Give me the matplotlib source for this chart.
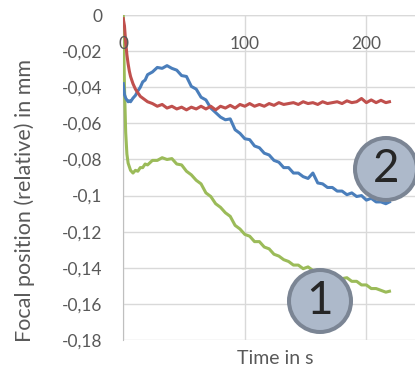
import numpy as np
import matplotlib
matplotlib.use("Agg")
import matplotlib.pyplot as plt
from matplotlib.patches import Circle

plt.rcParams['font.family'] = ['Lato', 'DejaVu Sans']

# time in s
t = [0, 1, 2, 3, 4, 5, 6, 8, 10, 12, 14, 16, 18,
     20, 24, 28, 32, 36, 40, 44, 48, 52, 56, 60, 64, 68, 72, 76, 80,
     84, 88, 92, 96, 100, 104, 108, 112, 116, 120, 124, 128, 132, 136,
     140, 144, 148, 152, 156, 160, 164, 168, 172, 176, 180, 184, 188,
     192, 196, 200, 204, 208, 212, 216, 219]

# focal position (relative) in mm
red = [-0.002, -0.006, -0.015, -0.022, -0.027, -0.031, -0.034, -0.038, -0.041, -0.043, -0.045, -0.046, -0.047,
       -0.048, -0.049, -0.0505, -0.0495, -0.0515, -0.0505, -0.052, -0.051, -0.0525, -0.051, -0.052, -0.0505, -0.052,
       -0.0505, -0.0525, -0.0505, -0.0515, -0.050, -0.0515, -0.0495, -0.0505, -0.049, -0.0505, -0.0495, -0.0505,
       -0.049, -0.050, -0.0485, -0.0495, -0.049, -0.0485, -0.0495, -0.048, -0.049, -0.0485, -0.0495, -0.048,
       -0.049, -0.0485, -0.048, -0.049, -0.0475, -0.0485, -0.048, -0.0462, -0.0485, -0.047, -0.0485, -0.0472,
       -0.0485, -0.048]

blue = [-0.038, -0.044, -0.046, -0.047, -0.048, -0.0475, -0.048, -0.046, -0.0445, -0.042, -0.040, -0.037, -0.036,
        -0.033, -0.0315, -0.029, -0.0295, -0.028, -0.0295, -0.0305, -0.0335, -0.034, -0.0395, -0.041, -0.0455, -0.047,
        -0.0515, -0.054, -0.0565, -0.058, -0.0575, -0.0635, -0.0655, -0.0685, -0.069, -0.0725, -0.0735, -0.0765,
        -0.0775, -0.0805, -0.0815, -0.0845, -0.0845, -0.0875, -0.0875, -0.0895, -0.0905, -0.0875, -0.093, -0.0935,
        -0.0955, -0.0955, -0.0975, -0.0975, -0.0995, -0.0985, -0.1005, -0.1, -0.1025, -0.1015, -0.1035, -0.1035,
        -0.1045, -0.1035]

green = [0.0, -0.040, -0.065, -0.077, -0.082, -0.084, -0.086, -0.0875, -0.086, -0.0865, -0.0845, -0.0845, -0.0825,
         -0.083, -0.0805, -0.0805, -0.079, -0.08, -0.0795, -0.0825, -0.083, -0.0865, -0.0885, -0.0915, -0.0935, -0.0985,
         -0.1005, -0.1045, -0.1065, -0.1095, -0.1115, -0.1165, -0.1185, -0.1215, -0.1225, -0.1255, -0.1255, -0.1285,
         -0.1295, -0.1325, -0.1335, -0.1355, -0.1365, -0.1385, -0.1385, -0.1405, -0.1395, -0.1415, -0.1415, -0.1435,
         -0.143, -0.1445, -0.1445, -0.146, -0.1455, -0.1475, -0.1475, -0.1495, -0.1495, -0.1515, -0.1515, -0.1525,
         -0.1535, -0.153]

y_ticks = [0, -0.02, -0.04, -0.06, -0.08, -0.1, -0.12, -0.14, -0.16, -0.18]
y_ticklabels = ['0', '-0,02', '-0,04', '-0,06', '-0,08', '-0,1', '-0,12', '-0,14', '-0,16', '-0,18']
x_ticks = [0, 100, 200]

txt = '#595959'
grid = '#D9D9D9'

fig = plt.figure(figsize=(4.15, 3.73), dpi=100)
ax = fig.add_axes([0.297, 0.0885, 0.703, 0.871])

ax.plot(t, green, color='#9BBB59', lw=2.2, zorder=3)
ax.plot(t, blue, color='#4A7EBB', lw=2.2, zorder=3)
ax.plot(t, red, color='#C0504D', lw=2.2, zorder=3)

ax.set_xlim(0, 240)
ax.set_ylim(-0.18, 0)
ax.set_yticks(y_ticks)
ax.set_yticklabels(y_ticklabels)
ax.set_xticks(x_ticks)
ax.set_xticklabels([])
ax.tick_params(axis='both', length=0, labelsize=12.5, labelcolor=txt)
ax.tick_params(axis='y', pad=15)
ax.grid(True, color=grid, lw=1)
for s in ['top', 'right', 'bottom']:
    ax.spines[s].set_visible(False)
ax.spines['left'].set_color('#BFBFBF')
ax.axhline(0, color=grid, lw=1, zorder=1)

# x labels sit just below the zero line
for xt in x_ticks:
    ax.text(xt, -0.0162, str(xt), ha='center', va='center', fontsize=12.5, color=txt)

fig.text(275 / 415, 1 - 358 / 373, 'Time in s', ha='center', va='center', fontsize=14, color=txt)
fig.text(25 / 415, 1 - 200 / 373, 'Focal position (relative) in mm', ha='center', va='center',
         rotation=90, fontsize=15.5, color=txt)

# numbered markers
for cx, cy, lab in [(386, 169, '2'), (320, 301, '1')]:
    fig.patches.append(Circle((cx, 373 - cy), 31, transform=None, facecolor='#ADB9CA',
                              edgecolor='#7B8594', lw=2.9, zorder=5, figure=fig))
    fig.text(cx / 415, 1 - cy / 373, lab, ha='center', va='center', fontsize=33, color='#262626', zorder=6)

fig.savefig('out.png', dpi=100)
